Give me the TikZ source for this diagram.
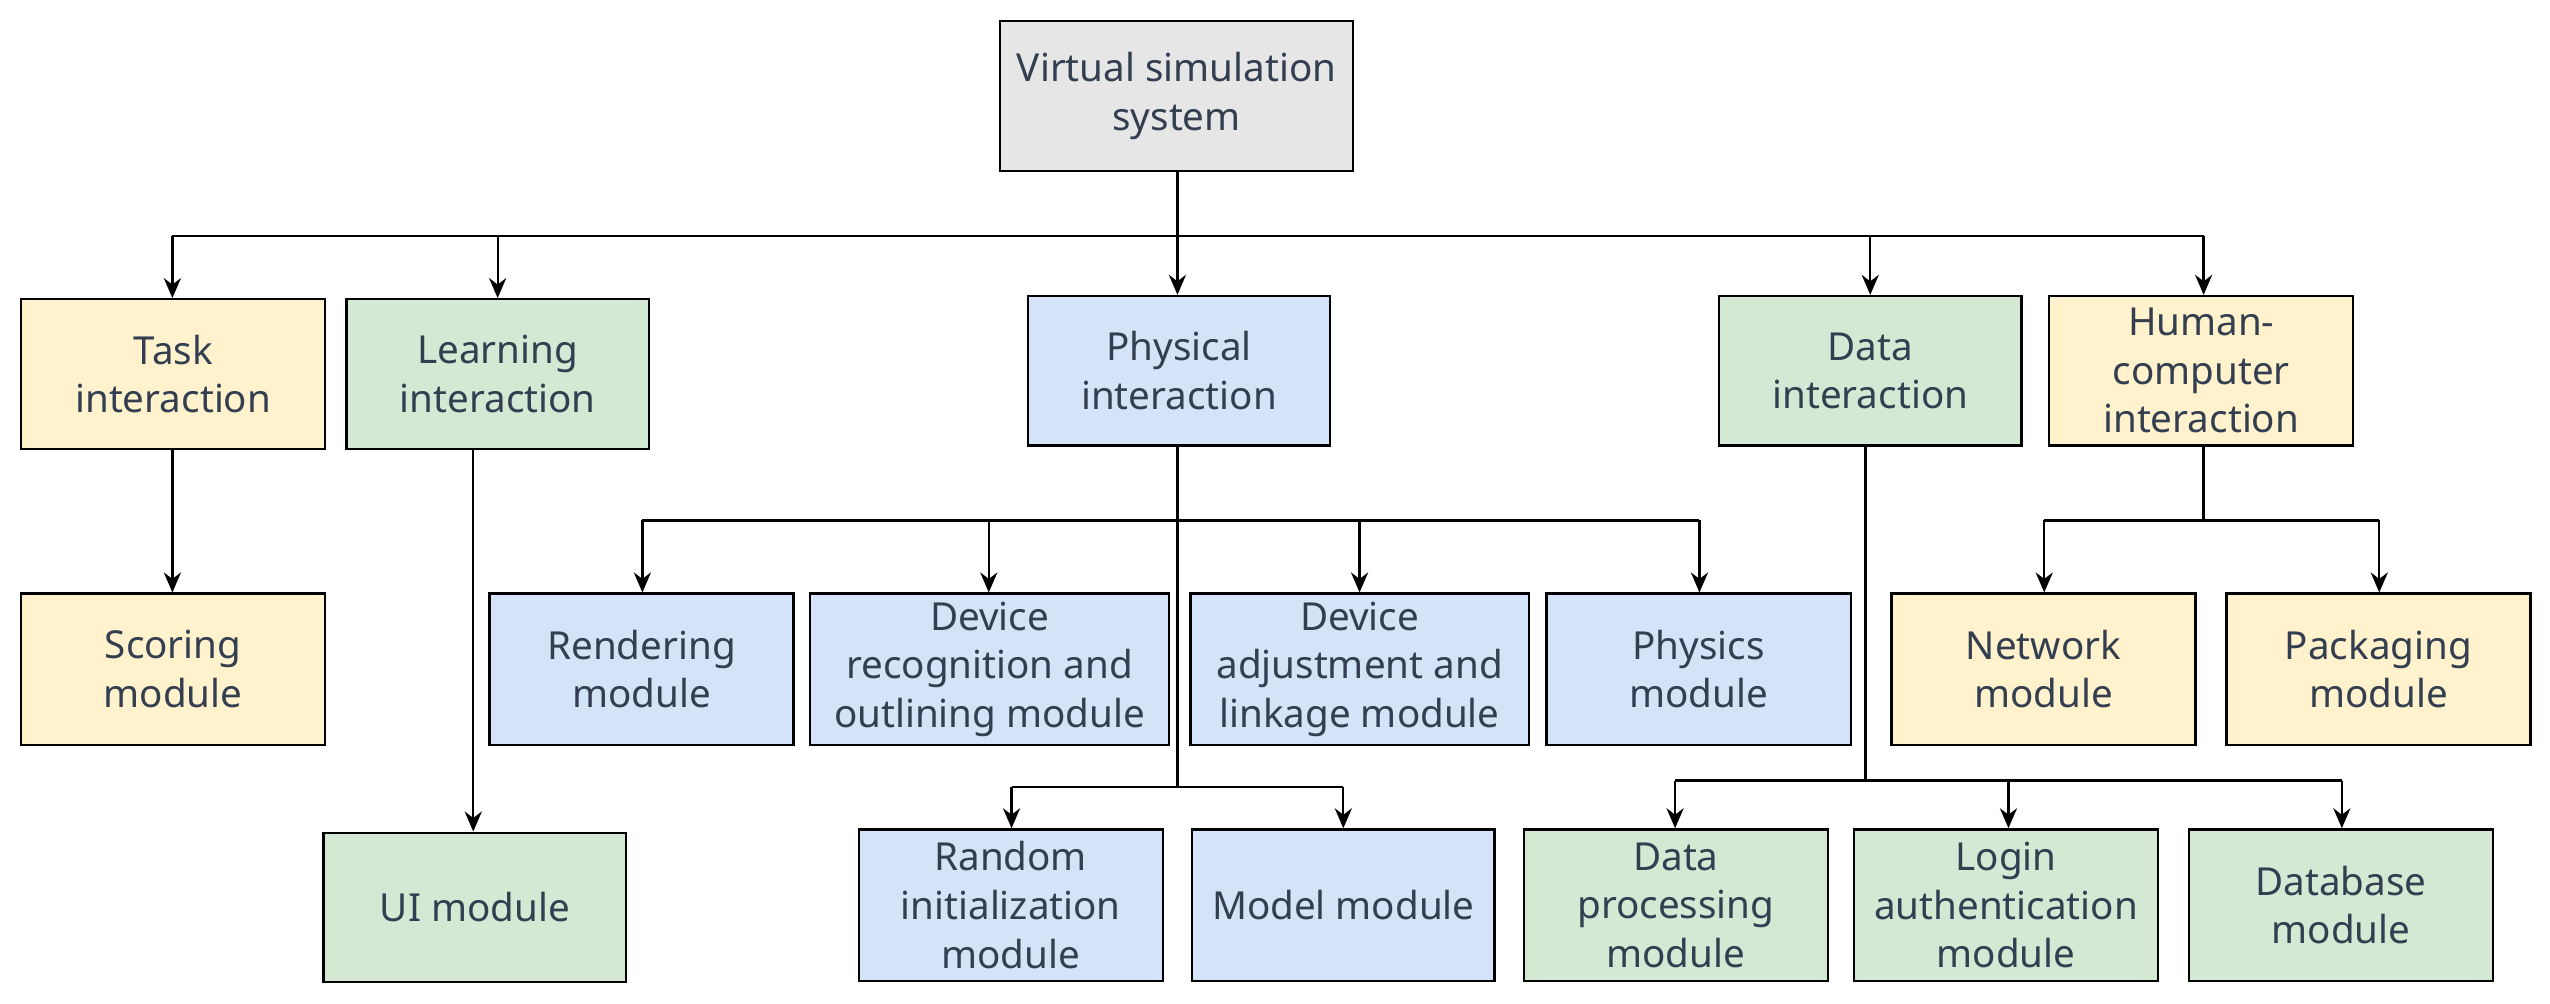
\documentclass[tikz,border=0pt]{standalone}
\usepackage{fontspec}
\setmainfont{Noto Sans}
\usetikzlibrary{arrows.meta}
\definecolor{cy}{HTML}{FFF2CC}
\definecolor{cg}{HTML}{D5E8D4}
\definecolor{cb}{HTML}{D4E3F7}
\definecolor{cgr}{HTML}{E6E6E6}
\definecolor{tx}{HTML}{333F50}
\begin{document}
\begin{tikzpicture}[x=0.02cm,y=-0.02cm,
  box/.style={draw=black,line width=0.8pt,inner sep=0pt,align=center,text=tx,
    font=\fontsize{13.5pt}{17pt}\selectfont},
  ar/.style={draw=black,line width=0.8pt,-{Stealth[length=7pt,width=6pt]}},
  ln/.style={draw=black,line width=0.8pt}]
\useasboundingbox (0,0) rectangle (1568,617);
\newcommand\bx[7]{\node[box,fill=#6,minimum width={(#4-#2)*0.02cm},minimum height={(#5-#3)*0.02cm}] (#1) at ({(#2+#4)/2},{(#3+#5)/2}) {#7};}
\bx{root}{615}{13}{832}{105}{cgr}{Virtual simulation\\system}
\bx{task}{13}{184}{200}{276}{cy}{Task\\interaction}
\bx{learn}{213}{184}{399}{276}{cg}{Learning\\interaction}
\bx{phys}{632}{182}{818}{274}{cb}{Physical\\interaction}
\bx{data}{1057}{182}{1243}{274}{cg}{Data\\interaction}
\bx{hci}{1260}{182}{1447}{274}{cy}{Human-\\computer\\interaction}
\bx{score}{13}{365}{200}{458}{cy}{Scoring\\module}
\bx{ui}{199}{512}{385}{604}{cg}{UI module}
\bx{rend}{301}{365}{488}{458}{cb}{Rendering\\module}
\bx{drec}{498}{365}{719}{458}{cb}{Device\\recognition and\\outlining module}
\bx{dadj}{732}{365}{940}{458}{cb}{Device\\adjustment and\\linkage module}
\bx{physm}{951}{365}{1138}{458}{cb}{Physics\\module}
\bx{net}{1163}{365}{1350}{458}{cy}{Network\\module}
\bx{pack}{1369}{365}{1556}{458}{cy}{Packaging\\module}
\bx{rand}{528}{510}{715}{603}{cb}{Random\\initialization\\module}
\bx{model}{733}{510}{919}{603}{cb}{Model module}
\bx{dproc}{937}{510}{1124}{603}{cg}{Data\\processing\\module}
\bx{login}{1140}{510}{1327}{603}{cg}{Login\\authentication\\module}
\bx{db}{1346}{510}{1533}{603}{cg}{Database\\module}
% root
\coordinate (r1) at (724,145);
\draw[ln] (root.south -| r1) -- (r1);
\draw[ln] (106,145) -- (1355,145);
\draw[ar] (106,145) -- (task.north -| 106,0);
\draw[ar] (306,145) -- (learn.north -| 306,0);
\draw[ar] (724,145) -- (phys.north -| 724,0);
\draw[ar] (1150,145) -- (data.north -| 1150,0);
\draw[ar] (1355,145) -- (hci.north -| 1355,0);
% task, learn
\draw[ar] (task.south -| 106,0) -- (score.north -| 106,0);
\draw[ar] (learn.south -| 291,0) -- (ui.north -| 291,0);
% physical
\draw[ln] (phys.south -| 724,0) -- (724,484);
\draw[ln] (395,320) -- (1045,320);
\draw[ar] (395,320) -- (rend.north -| 395,0);
\draw[ar] (608,320) -- (drec.north -| 608,0);
\draw[ar] (836,320) -- (dadj.north -| 836,0);
\draw[ar] (1045,320) -- (physm.north -| 1045,0);
\draw[ln] (622,484) -- (826,484);
\draw[ar] (622,484) -- (rand.north -| 622,0);
\draw[ar] (826,484) -- (model.north -| 826,0);
% data
\draw[ln] (data.south -| 1147,0) -- (1147,480);
\draw[ln] (1030,480) -- (1440,480);
\draw[ar] (1030,480) -- (dproc.north -| 1030,0);
\draw[ar] (1235,480) -- (login.north -| 1235,0);
\draw[ar] (1440,480) -- (db.north -| 1440,0);
% hci
\draw[ln] (hci.south -| 1355,0) -- (1355,320);
\draw[ln] (1257,320) -- (1463,320);
\draw[ar] (1257,320) -- (net.north -| 1257,0);
\draw[ar] (1463,320) -- (pack.north -| 1463,0);
\end{tikzpicture}
\end{document}
